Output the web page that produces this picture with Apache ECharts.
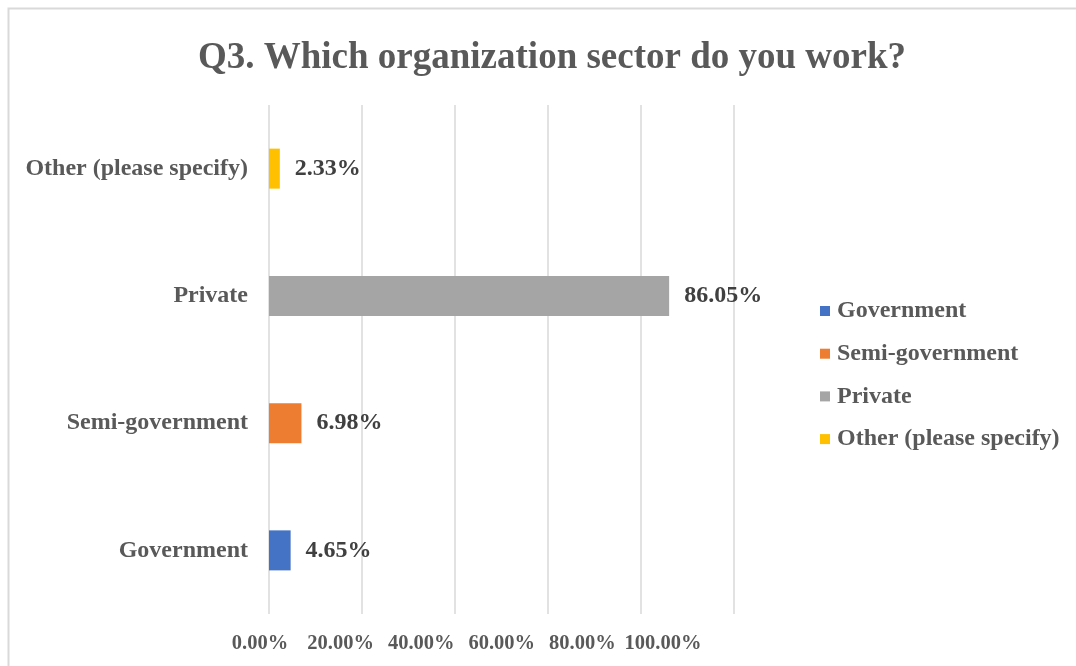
<!DOCTYPE html>
<html>
<head>
<meta charset="utf-8">
<title>Q3. Which organization sector do you work?</title>
<script src="https://cdn.jsdelivr.net/npm/echarts@6/dist/echarts.min.js"></script>
<style>
  html, body { margin: 0; padding: 0; background: #ffffff; }
  #chart { width: 1076px; height: 666px; }
</style>
</head>
<body>
<div id="chart"></div>
<script>
// Survey answers: share of respondents per organization sector (%)
const titleText = 'Q3. Which organization sector do you work?';
const categories = ['Government', 'Semi-government', 'Private', 'Other (please specify)'];
const percentages = [4.65, 6.98, 86.05, 2.33];
const sectorColors = ['#4472C4', '#ED7D31', '#A5A5A5', '#FFC000'];
const axisMin = 0;
const axisMax = 100;
const axisStep = 20;

const serif = '"Liberation Serif", "Times New Roman", "DejaVu Serif", serif';
const labelGrey = '#595959';
const valueGrey = '#404040';
const gridGrey = '#D9D9D9';

// One series per sector so each gets its own colour and legend entry;
// a shared stack keeps every bar centred on its own category row.
const series = categories.map((name, i) => ({
  name: name,
  type: 'bar',
  stack: 'sector',
  barWidth: 40,
  itemStyle: { color: sectorColors[i] },
  label: {
    show: true,
    position: 'right',
    distance: 15,
    fontFamily: serif,
    fontWeight: 'bold',
    fontSize: 24,
    color: valueGrey,
    formatter: p => p.value.toFixed(2) + '%'
  },
  emphasis: { disabled: true },
  data: categories.map((c, j) => (j === i ? percentages[i] : '-'))
}));

const chart = echarts.init(document.getElementById('chart'), null, { renderer: 'canvas' });

chart.setOption({
  animation: false,
  backgroundColor: '#ffffff',
  title: {
    text: titleText,
    left: 547,
    top: 35,
    textAlign: 'center',
    textStyle: {
      fontFamily: serif,
      fontWeight: 'bold',
      fontSize: 37,
      color: labelGrey
    }
  },
  legend: {
    orient: 'vertical',
    left: 815,
    top: 294,
    itemWidth: 10,
    itemHeight: 10,
    itemGap: 18.7,
    icon: 'rect',
    data: categories,
    textStyle: {
      fontFamily: serif,
      fontWeight: 'bold',
      fontSize: 24,
      lineHeight: 24,
      color: labelGrey,
      padding: [0, 0, 0, 2]
    }
  },
  grid: [
    { left: 269, right: 342, top: 105, bottom: 52, containLabel: false },
    { left: 260, right: 413, top: 105, bottom: 52, containLabel: false }
  ],
  xAxis: [
    {
      type: 'value',
      gridIndex: 0,
      min: axisMin,
      max: axisMax,
      interval: axisStep,
      axisLine: { show: false },
      axisTick: { show: false },
      axisLabel: { show: false },
      splitLine: { show: true, lineStyle: { color: gridGrey, width: 1.5 } }
    },
    {
      // tick labels of the percentage scale
      type: 'value',
      gridIndex: 1,
      min: axisMin,
      max: axisMax,
      interval: axisStep,
      axisLine: { show: false },
      axisTick: { show: false },
      splitLine: { show: false },
      axisLabel: {
        show: true,
        margin: 19,
        fontFamily: serif,
        fontWeight: 'bold',
        fontSize: 20.5,
        color: labelGrey,
        formatter: v => v.toFixed(2) + '%'
      }
    }
  ],
  yAxis: [
    {
      type: 'category',
      gridIndex: 0,
      data: categories,
      axisLine: { show: false },
      axisTick: { show: false },
      splitLine: { show: false },
      axisLabel: {
        margin: 21,
        fontFamily: serif,
        fontWeight: 'bold',
        fontSize: 24,
        color: labelGrey
      }
    },
    {
      type: 'category',
      gridIndex: 1,
      data: categories,
      show: false
    }
  ],
  graphic: [
    {
      type: 'rect',
      silent: true,
      z: -1,
      shape: { x: 8.5, y: 8.5, width: 1200, height: 800 },
      style: { fill: 'none', stroke: gridGrey, lineWidth: 2 }
    }
  ],
  series: series
});
</script>
</body>
</html>
